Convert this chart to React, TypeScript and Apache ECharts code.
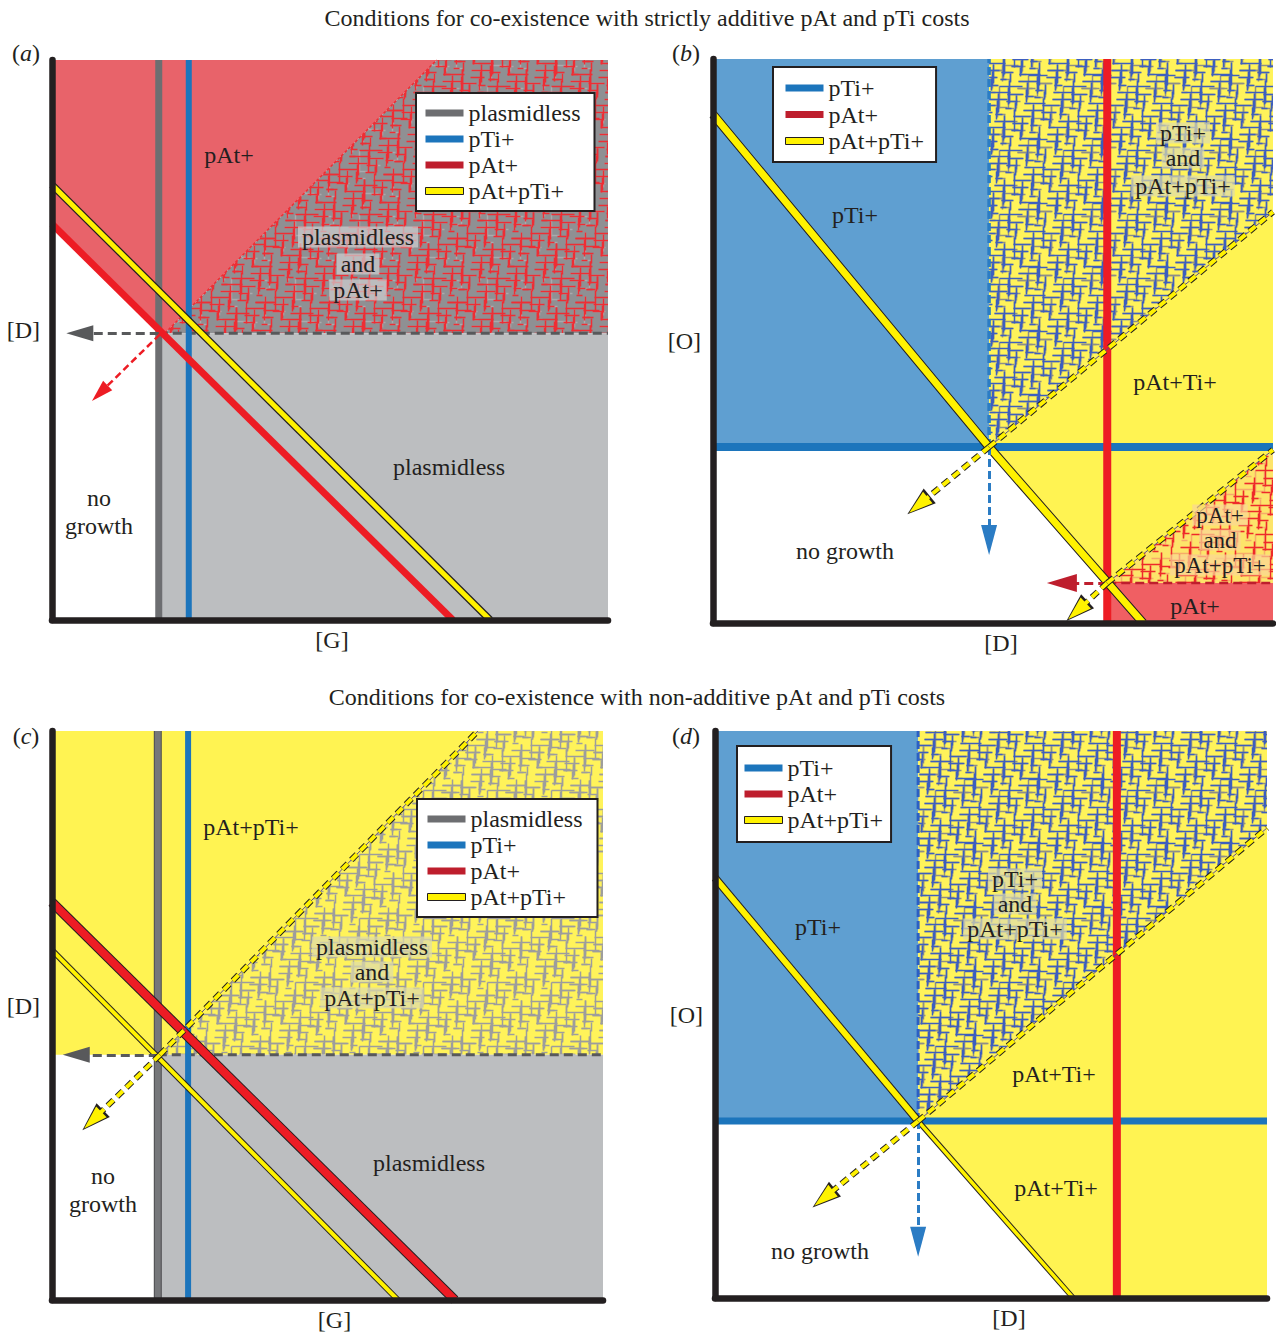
import React, { useEffect, useRef } from 'react';
import * as echarts from 'echarts';

// ---------- Panel (a): strictly additive, [G] vs [D]  (axis units 0–100) ----------
const aGrayLine = [[19.2, 0], [19.2, 100]];
const aBlueLine = [[24.6, 0], [24.6, 100]];
const aRedLine = [[0, 70.7], [72.1, 0]];
const aYellowLine = [[0, 77.7], [78.8, 0]];
const aThreshold = [[19.2, 51.2], [100, 51.2]];
const aMixedEdge = [[20.3, 51.2], [69.2, 100]];
const aArrowLeft = [[19.2, 51.2], [5.0, 51.2]];
const aArrowRed = [[19.4, 51.0], [8.6, 40.5]];
const aRegionPAt = [[0, 100], [69.2, 100], [20.3, 51.2], [19.2, 51.2], [0, 70.7]];
const aRegionMixed = [[20.3, 51.2], [69.2, 100], [100, 100], [100, 51.2]];
const aRegionPlasmidless = [[19.2, 0], [100, 0], [100, 51.2], [19.2, 51.2]];

// ---------- Panel (b): strictly additive, [D] vs [O] ----------
const bBlueLine = [[0, 31.2], [100, 31.2]];
const bRedLine = [[70.4, 0], [70.4, 100]];
const bYellowLine = [[0, 90.2], [49.3, 31.2], [76.8, 0]];
const bBlueDash = [[49.3, 31.2], [49.3, 100]];
const bUpperDiag = [[49.3, 31.2], [100, 72.9]];
const bLowerDiag = [[70.4, 7.1], [100, 30.7]];
const bRedDash = [[70.4, 7.1], [100, 7.1]];
const bArrowBlue = [[49.3, 31.2], [49.3, 14.7]];
const bArrowYellow1 = [[49.3, 31.2], [36.7, 20.9]];
const bArrowYellow2 = [[70.4, 7.1], [65.0, 2.1]];
const bArrowRed = [[70.4, 7.1], [62.3, 7.1]];
const bRegionPTi = [[0, 31.2], [49.3, 31.2], [49.3, 100], [0, 100]];
const bRegionMixedTop = [[49.3, 31.2], [49.3, 100], [100, 100], [100, 72.9]];
const bRegionBoth = [[49.3, 31.2], [100, 72.9], [100, 30.7], [70.4, 7.1]];
const bRegionMixedLow = [[70.4, 7.1], [100, 30.7], [100, 7.1]];
const bRegionPAt = [[70.4, 0], [100, 0], [100, 7.1], [70.4, 7.1]];

// ---------- Panel (c): non-additive, [G] vs [D] ----------
const cGrayLine = [[19.2, 0], [19.2, 100]];
const cBlueLine = [[24.7, 0], [24.7, 100]];
const cRedLine = [[0, 69.9], [73.1, 0]];
const cYellowLine = [[0, 61.5], [62.8, 0]];
const cThreshold = [[19.2, 43.1], [100, 43.1]];
const cDiag = [[19.6, 43.1], [77.3, 100]];
const cArrowLeft = [[19.2, 43.1], [4.4, 43.1]];
const cArrowYellow = [[19.6, 43.1], [7.4, 31.6]];
const cRegionBoth = [[0, 43.1], [19.6, 43.1], [77.3, 100], [0, 100]];
const cRegionMixed = [[19.6, 43.1], [77.3, 100], [100, 100], [100, 43.1]];
const cRegionPlasmidless = [[19.2, 0], [100, 0], [100, 43.1], [19.2, 43.1]];

// ---------- Panel (d): non-additive, [D] vs [O] ----------
const dBlueLine = [[0, 31.2], [100, 31.2]];
const dRedLine = [[72.8, 0], [72.8, 100]];
const dYellowUpper = [[0, 74.1], [36.8, 31.2]];
const dYellowLower = [[36.8, 31.2], [64.9, 0]];
const dBlueDash = [[36.8, 31.2], [36.8, 100]];
const dDiag = [[36.8, 31.2], [100, 82.9]];
const dArrowBlue = [[36.8, 31.2], [36.8, 9.9]];
const dArrowYellow = [[36.8, 31.2], [19.7, 17.6]];
const dRegionPTi = [[0, 31.2], [36.8, 31.2], [36.8, 100], [0, 100]];
const dRegionMixed = [[36.8, 31.2], [36.8, 100], [100, 100], [100, 82.9]];
const dRegionBoth = [[36.8, 31.2], [100, 82.9], [100, 0], [64.9, 0]];

// ---------- Texts ----------
const titles = [
  'Conditions for co-existence with strictly additive pAt and pTi costs',
  'Conditions for co-existence with non-additive pAt and pTi costs',
];
const panelLetters = ['a', 'b', 'c', 'd'];
const xAxisNames = ['[G]', '[D]', '[G]', '[D]'];
const yAxisNames = ['[D]', '[O]', '[D]', '[O]'];
const legendFour = ['plasmidless', 'pTi+', 'pAt+', 'pAt+pTi+'];
const legendThree = ['pTi+', 'pAt+', 'pAt+pTi+'];

const FONT = "'Liberation Serif', 'Times New Roman', serif";
const INK = '#231f20';
const FS = 24;

const C_RED_FILL = '#e8636a';
const C_RED_FILL_B = '#f05f63';
const C_LIGHT_GRAY = '#bcbec0';
const C_BLUE_FILL = '#5f9fd1';
const C_YELLOW_FILL = '#fff352';
const C_GRAY = '#6d6e71';
const C_BLUE = '#1c75bc';
const C_RED = '#ed1c24';
const C_DARKRED = '#be1e2d';
const C_YELLOW = '#fff200';
const C_DASH = '#58595b';

function makeHatch(base: string, layers: [string, number][], size = 64, lw = 1.5) {
  const cv = document.createElement('canvas');
  cv.width = size;
  cv.height = size;
  const g = cv.getContext('2d')!;
  g.fillStyle = base;
  g.fillRect(0, 0, size, size);
  g.lineWidth = lw;
  let k = 7;
  layers.forEach(([col, count]) => {
    g.strokeStyle = col;
    for (let i = 0; i < count; i++) {
      const h1 = Math.imul(k, 2654435761) >>> 0;
      const h2 = Math.imul(k * 31 + 17, 2246822519) >>> 0;
      k++;
      const x = Math.floor(h1 % size) + 0.5;
      const y = Math.floor(h2 % size) + 0.5;
      const len = 6 + ((h1 >>> 12) % 18);
      const vert = ((h2 >>> 20) & 1) === 1;
      for (let ox = -size; ox <= size; ox += size) {
        for (let oy = -size; oy <= size; oy += size) {
          g.beginPath();
          g.moveTo(x + ox, y + oy);
          if (vert) g.lineTo(x + ox, y + oy + len);
          else g.lineTo(x + ox + len, y + oy);
          g.stroke();
        }
      }
    }
  });
  return { image: cv.toDataURL(), imageWidth: size, imageHeight: size, repeat: 'repeat' };
}

export default function App() {
  const ref = useRef<HTMLDivElement>(null);
  useEffect(() => {
    const chart = echarts.init(ref.current!, null, { renderer: 'svg' });

    const patA = makeHatch('#8f9093', [['#a9aaad', 30], ['#ee2e34', 75]]);
    const patB = makeHatch('#fff35a', [['#8e8f88', 70], ['#3d5fbf', 60]]);
    const patBLow = makeHatch('#fde46a', [['#f7ab6a', 45], ['#ee2a2a', 55]]);
    const patC = makeHatch('#fff35a', [['#9d9d9d', 100]]);

    const series: any[] = [];
    const poly = (g: number, pts: number[][], fill: any) =>
      series.push({
        type: 'custom', xAxisIndex: g, yAxisIndex: g, silent: true, z: 1, data: [pts[0]],
        renderItem: (_p: any, api: any) => ({
          type: 'polygon',
          shape: { points: pts.map((p) => api.coord(p)) },
          style: { fill },
        }),
      });
    const line = (g: number, pts: number[][], color: string, width: number, opts: any = {}) =>
      series.push({
        type: 'line', name: opts.name, xAxisIndex: g, yAxisIndex: g, data: pts, symbol: 'none',
        silent: true, z: opts.z ?? 3, color, clip: true,
        lineStyle: { color, width, type: opts.type ?? 'solid', cap: 'butt' },
      });
    const arrow = (g: number, pts: number[][], color: string, width: number, size: number[], dash: any, z = 6) =>
      series.push({
        type: 'line', xAxisIndex: g, yAxisIndex: g, data: [], silent: true, z,
        markLine: {
          silent: true, symbol: ['none', 'triangle'], symbolSize: size, label: { show: false },
          emphasis: { disabled: true }, animation: false,
          lineStyle: { color, width, type: dash },
          data: [[{ coord: pts[0] }, { coord: pts[1] }]],
        },
      });
    const yDash = (g: number, pts: number[][]) => {
      line(g, pts, '#5b4a8a', 1, { z: 5 });
      line(g, pts, INK, 6, { z: 5, type: [8, 5] });
      line(g, pts, C_YELLOW, 4, { z: 5, type: [8, 5] });
    };
    const yArrow = (g: number, pts: number[][]) => {
      arrow(g, pts, INK, 6, [19, 29], [8, 5]);
      arrow(g, pts, C_YELLOW, 4, [15, 24], [8, 5]);
    };

    // Panel a
    poly(0, aRegionPAt, C_RED_FILL);
    poly(0, aRegionMixed, patA);
    poly(0, aRegionPlasmidless, C_LIGHT_GRAY);
    line(0, aMixedEdge, '#ee2e34', 1.5, { z: 2, type: [3, 2] });
    line(0, aThreshold, C_DASH, 3, { z: 2, type: [9, 5] });
    arrow(0, aArrowLeft, C_DASH, 3, [16, 27], [9, 5]);
    arrow(0, aArrowRed, C_RED, 2.5, [13, 22], [7, 4]);
    line(0, aGrayLine, C_GRAY, 7, { name: 'plasmidless' });
    line(0, aBlueLine, C_BLUE, 6, { name: 'pTi+' });
    line(0, aRedLine, C_RED, 7, { name: 'pAt+' });
    line(0, aYellowLine, INK, 7.5, { z: 4 });
    line(0, aYellowLine, C_YELLOW, 5, { z: 4, name: 'pAt+pTi+' });

    // Panel b
    poly(1, bRegionPTi, C_BLUE_FILL);
    poly(1, bRegionMixedTop, patB);
    poly(1, bRegionBoth, C_YELLOW_FILL);
    poly(1, bRegionMixedLow, patBLow);
    poly(1, bRegionPAt, C_RED_FILL_B);
    line(1, bBlueDash, '#2b7cc4', 3.5, { z: 2, type: [8, 4] });
    line(1, bRedDash, C_DARKRED, 2.5, { z: 2, type: [9, 5] });
    line(1, bBlueLine, C_BLUE, 8);
    line(1, bRedLine, C_RED, 8);
    line(1, bYellowLine, INK, 9, { z: 4 });
    line(1, bYellowLine, C_YELLOW, 7, { z: 4 });
    yDash(1, bUpperDiag);
    yDash(1, bLowerDiag);
    arrow(1, bArrowBlue, '#2b7cc4', 3, [16, 30], [8, 4]);
    arrow(1, bArrowRed, C_DARKRED, 3, [18, 30], [9, 5]);
    yArrow(1, bArrowYellow1);
    yArrow(1, bArrowYellow2);

    // Panel c
    poly(2, cRegionBoth, C_YELLOW_FILL);
    poly(2, cRegionMixed, patC);
    poly(2, cRegionPlasmidless, C_LIGHT_GRAY);
    line(2, cThreshold, C_DASH, 3, { z: 2, type: [9, 5] });
    arrow(2, cArrowLeft, C_DASH, 3, [16, 27], [9, 5]);
    line(2, cGrayLine, '#4d4d4f', 8);
    line(2, cGrayLine, '#76777a', 6);
    line(2, cBlueLine, C_BLUE, 6);
    line(2, cYellowLine, INK, 6, { z: 4 });
    line(2, cYellowLine, C_YELLOW, 4, { z: 4 });
    line(2, cRedLine, INK, 10, { z: 4 });
    line(2, cRedLine, C_RED, 8, { z: 4 });
    yDash(2, cDiag);
    yArrow(2, cArrowYellow);

    // Panel d
    poly(3, dRegionPTi, C_BLUE_FILL);
    poly(3, dRegionMixed, patB);
    poly(3, dRegionBoth, C_YELLOW_FILL);
    line(3, dBlueDash, '#2b5fc4', 3, { z: 2, type: [8, 4] });
    line(3, dBlueLine, C_BLUE, 7);
    line(3, dRedLine, C_RED, 8);
    line(3, dYellowUpper, INK, 8, { z: 4 });
    line(3, dYellowUpper, C_YELLOW, 6, { z: 4 });
    line(3, dYellowLower, INK, 5.5, { z: 4 });
    line(3, dYellowLower, C_YELLOW, 3.5, { z: 4 });
    yDash(3, dDiag);
    arrow(3, dArrowBlue, '#2b7cc4', 3, [16, 30], [8, 4]);
    yArrow(3, dArrowYellow);

    const grids = [
      { left: 52, top: 60, width: 556, height: 560 },
      { left: 713, top: 59, width: 560, height: 564 },
      { left: 52, top: 731, width: 551, height: 569 },
      { left: 715, top: 731, width: 552, height: 567 },
    ];
    const nameStyle = { fontSize: FS, fontFamily: FONT, color: INK };
    const axisLine = { show: true, onZero: false, lineStyle: { color: INK, width: 6.5 } };
    const xNamePad = [[0, 0, 0, 4], [0, 0, 0, 16], [0, 0, 0, 14], [0, 0, 0, 36]];
    const yVAlign = ['bottom', 'middle', 'bottom', 'middle'];
    const xAxis = grids.map((_, i) => ({
      gridIndex: i, type: 'value', min: 0, max: 100, z: 20,
      axisLine, axisTick: { show: false }, axisLabel: { show: false }, splitLine: { show: false },
      name: xAxisNames[i], nameLocation: 'middle', nameGap: 8,
      nameTextStyle: { ...nameStyle, padding: xNamePad[i] },
    }));
    const yAxis = grids.map((_, i) => ({
      gridIndex: i, type: 'value', min: 0, max: 100, z: 20,
      axisLine, axisTick: { show: false }, axisLabel: { show: false }, splitLine: { show: false },
      name: yAxisNames[i], nameLocation: 'middle', nameGap: 12, nameRotate: 0,
      nameTextStyle: { ...nameStyle, verticalAlign: yVAlign[i], lineHeight: 20 },
    }));

    const legendItem = (n: string) => {
      if (n === 'plasmidless') return { name: n, itemStyle: { color: C_GRAY } };
      if (n === 'pTi+') return { name: n, itemStyle: { color: C_BLUE } };
      if (n === 'pAt+') return { name: n, itemStyle: { color: C_DARKRED } };
      return { name: n, itemStyle: { color: C_YELLOW, borderColor: INK, borderWidth: 1 } };
    };
    const legendBase = {
      orient: 'vertical', icon: 'rect', itemWidth: 38, itemHeight: 7, selectedMode: false,
      backgroundColor: '#ffffff', borderColor: INK, borderWidth: 2, z: 50,
      textStyle: { fontSize: FS, fontFamily: FONT, color: INK },
    };
    const legend = [
      { ...legendBase, left: 416, top: 93, itemGap: 2, padding: [8, 14, 8, 9], data: legendFour.map(legendItem) },
      { ...legendBase, left: 773, top: 67, itemGap: 2.5, padding: [9, 12, 9, 12], data: legendThree.map(legendItem) },
      { ...legendBase, left: 417, top: 799, itemGap: 2, padding: [8, 15, 8, 10], data: legendFour.map(legendItem) },
      { ...legendBase, left: 737, top: 746, itemGap: 2, padding: [10, 8, 10, 7], data: legendThree.map(legendItem) },
    ];

    const txt = (x: number, y: number, text: string, bg?: string, fs = FS) => ({
      type: 'text', x, y, z: 100, silent: true,
      style: {
        text, fill: INK, fontSize: fs, fontFamily: FONT, align: 'center', verticalAlign: 'middle',
        backgroundColor: bg, padding: bg ? [0, 4] : 0, lineHeight: bg ? 21 : undefined,
      },
    });
    const BG_GRAY = 'rgba(205,205,207,0.72)';
    const BG_YEL = 'rgba(222,219,170,0.72)';
    const BG_ORA = 'rgba(250,214,150,0.72)';
    const letterPos = [[26, 53], [686, 53], [26, 736], [686, 736]];
    const graphic: any[] = [
      txt(647, 18, titles[0]),
      txt(637, 697, titles[1]),
      ...panelLetters.map((l, i) => ({
        type: 'text', x: letterPos[i][0], y: letterPos[i][1], z: 100, silent: true,
        style: {
          text: '({it|' + l + '})', fill: INK, fontSize: FS, fontFamily: FONT, align: 'center', verticalAlign: 'middle',
          rich: { it: { fontStyle: 'italic', fontSize: FS, fontFamily: FONT, fill: INK } },
        },
      })),
      // panel a
      txt(229, 155, 'pAt+'),
      txt(358, 237, 'plasmidless', BG_GRAY), txt(358, 264, 'and', BG_GRAY), txt(358, 290, 'pAt+', BG_GRAY),
      txt(449, 467, 'plasmidless'),
      txt(99, 498, 'no'), txt(99, 526, 'growth'),
      // panel b
      txt(855, 215, 'pTi+'),
      txt(1183, 133, 'pTi+', BG_YEL), txt(1183, 158, 'and', BG_YEL), txt(1183, 186, 'pAt+pTi+', BG_YEL),
      txt(1175, 382, 'pAt+Ti+'),
      txt(845, 551, 'no growth'),
      txt(1220, 515, 'pAt+', BG_ORA, 23), txt(1220, 540, 'and', BG_ORA, 23), txt(1220, 565, 'pAt+pTi+', BG_ORA, 23),
      txt(1195, 606, 'pAt+'),
      // panel c
      txt(251, 827, 'pAt+pTi+'),
      txt(372, 947, 'plasmidless', BG_YEL), txt(372, 972, 'and', BG_YEL), txt(372, 998, 'pAt+pTi+', BG_YEL),
      txt(429, 1163, 'plasmidless'),
      txt(103, 1176, 'no'), txt(103, 1204, 'growth'),
      // panel d
      txt(818, 927, 'pTi+'),
      txt(1015, 879, 'pTi+', BG_YEL), txt(1015, 904, 'and', BG_YEL), txt(1015, 929, 'pAt+pTi+', BG_YEL),
      txt(1054, 1074, 'pAt+Ti+'),
      txt(1056, 1188, 'pAt+Ti+'),
      txt(820, 1251, 'no growth'),
    ];

    chart.setOption({
      animation: false,
      backgroundColor: '#ffffff',
      grid: grids,
      xAxis,
      yAxis,
      legend,
      series,
      graphic: { elements: graphic },
    });
    return () => chart.dispose();
  }, []);
  return <div ref={ref} style={{ position: 'absolute', left: 0, top: 0, width: 1276, height: 1335 }} />;
}
